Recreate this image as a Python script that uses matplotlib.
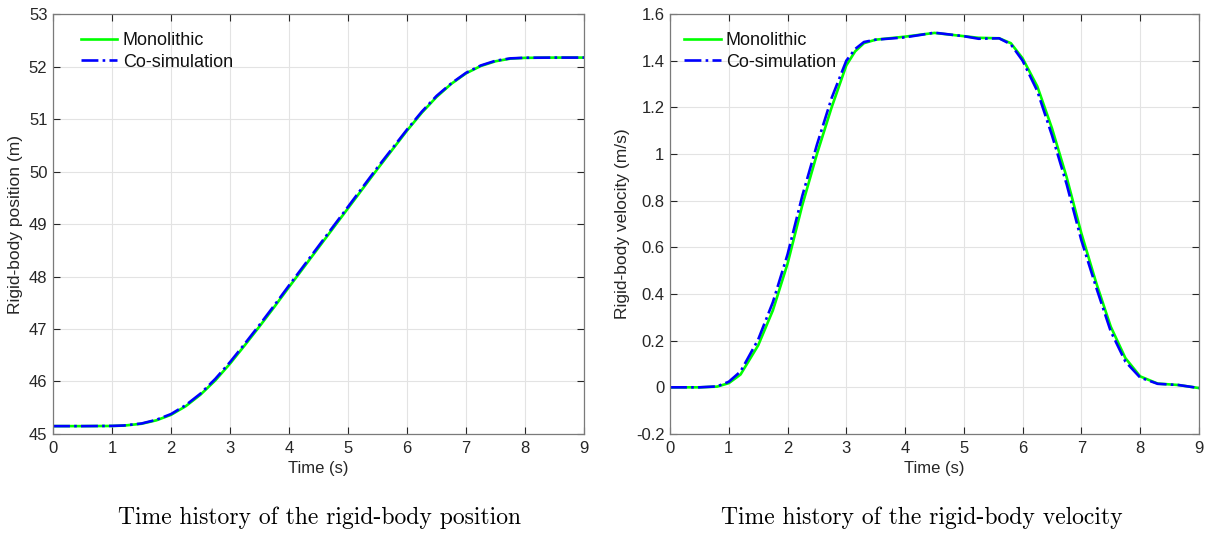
import matplotlib.pyplot as plt

# Position history
t_pos = [0.0, 0.5, 1.0, 1.2, 1.5, 1.75, 2.0, 2.25, 2.5, 2.75, 3.0, 3.25, 3.5,
         3.75, 4.0, 4.5, 5.0, 5.5, 6.0, 6.25, 6.5, 6.75, 7.0, 7.25, 7.5, 7.75,
         8.0, 8.5, 9.0]
pos_mono = [45.15, 45.15, 45.153, 45.16, 45.195, 45.26, 45.365, 45.53, 45.75,
            46.02, 46.34, 46.69, 47.05, 47.42, 47.80, 48.55, 49.30, 50.05,
            50.78, 51.12, 51.42, 51.67, 51.87, 52.01, 52.10, 52.15, 52.165,
            52.17, 52.17]
pos_cosim = [45.15, 45.15, 45.154, 45.162, 45.20, 45.27, 45.38, 45.55, 45.77,
             46.05, 46.37, 46.72, 47.08, 47.45, 47.83, 48.58, 49.33, 50.08,
             50.80, 51.14, 51.44, 51.68, 51.88, 52.02, 52.11, 52.155, 52.167,
             52.17, 52.17]

# Velocity history
t_vel = [0.0, 0.5, 0.8, 1.0, 1.2, 1.5, 1.75, 2.0, 2.25, 2.5, 2.75, 3.0, 3.15,
         3.3, 3.5, 4.0, 4.5, 5.0, 5.25, 5.6, 5.8, 6.0, 6.25, 6.5, 6.75, 7.0,
         7.25, 7.5, 7.75, 8.0, 8.3, 8.65, 9.0]
vel_mono = [0.0, 0.0, 0.003, 0.018, 0.055, 0.18, 0.33, 0.53, 0.78, 1.0, 1.20,
            1.38, 1.44, 1.475, 1.49, 1.503, 1.519, 1.505, 1.498, 1.496, 1.475,
            1.41, 1.29, 1.11, 0.90, 0.66, 0.45, 0.26, 0.125, 0.047, 0.016,
            0.01, -0.003]
vel_cosim = [0.0, 0.0, 0.004, 0.024, 0.068, 0.205, 0.365, 0.57, 0.82, 1.04,
             1.24, 1.40, 1.45, 1.48, 1.49, 1.50, 1.52, 1.505, 1.494, 1.496,
             1.47, 1.40, 1.27, 1.08, 0.87, 0.63, 0.43, 0.24, 0.11, 0.042,
             0.015, 0.01, -0.003]

x_ticks = list(range(0, 10))
pos_ticks = list(range(45, 54))
vel_ticks = [-0.2, 0, 0.2, 0.4, 0.6, 0.8, 1, 1.2, 1.4, 1.6]
vel_labels = ["-0.2", "0", "0.2", "0.4", "0.6", "0.8", "1", "1.2", "1.4", "1.6"]

plt.rcParams["font.family"] = ["Liberation Sans", "DejaVu Sans"]

fig = plt.figure(figsize=(12.11, 5.35), dpi=100)
ax1 = fig.add_axes([0.0438, 0.1888, 0.4385, 0.785])
ax2 = fig.add_axes([0.5533, 0.1888, 0.4367, 0.785])

edge = "#262626"


def style_axes(ax, ylabel, legend_x):
    ax.set_xlim(0, 9)
    ax.set_xticks(x_ticks)
    ax.set_xlabel("Time (s)", fontsize=12, color=edge, labelpad=4)
    ax.set_ylabel(ylabel, fontsize=12.5, color=edge, labelpad=4)
    ax.grid(True, color="#e3e3e3", linewidth=0.8)
    ax.set_axisbelow(True)
    ax.tick_params(direction="in", top=True, right=True, length=5,
                   width=0.8, labelsize=12, colors=edge)
    ax.tick_params(axis="x", pad=5)
    ax.tick_params(axis="y", pad=4)
    for s in ax.spines.values():
        s.set_color("#7a7a7a")
        s.set_linewidth(0.9)
    leg = ax.legend(loc="upper left", frameon=False, fontsize=13,
                    handlelength=2.0, handletextpad=0.3, labelspacing=0.25,
                    borderaxespad=0.6, bbox_to_anchor=(legend_x, 1.0))
    for txt in leg.get_texts():
        txt.set_color("#111111")


ax1.plot(t_pos, pos_mono, color="#00ff00", linewidth=1.9, label="Monolithic")
ax1.plot(t_pos, pos_cosim, color="#0000ff", linewidth=1.9, linestyle="-.",
         label="Co-simulation")
ax1.set_ylim(45, 53)
ax1.set_yticks(pos_ticks)
style_axes(ax1, "Rigid-body position (m)", 0.019)

ax2.plot(t_vel, vel_mono, color="#00ff00", linewidth=1.9, label="Monolithic")
ax2.plot(t_vel, vel_cosim, color="#0000ff", linewidth=1.9, linestyle="-.",
         label="Co-simulation")
ax2.set_ylim(-0.2, 1.6)
ax2.set_yticks(vel_ticks)
ax2.set_yticklabels(vel_labels)
style_axes(ax2, "Rigid-body velocity (m/s)", -0.007)

fig.text(320 / 1211, 0.032, "Time history of the rigid-body position",
         family="cmr10", fontsize=17, ha="center", va="center")
fig.text(922 / 1211, 0.032, "Time history of the rigid-body velocity",
         family="cmr10", fontsize=17, ha="center", va="center")

fig.savefig("out.png", dpi=100)
